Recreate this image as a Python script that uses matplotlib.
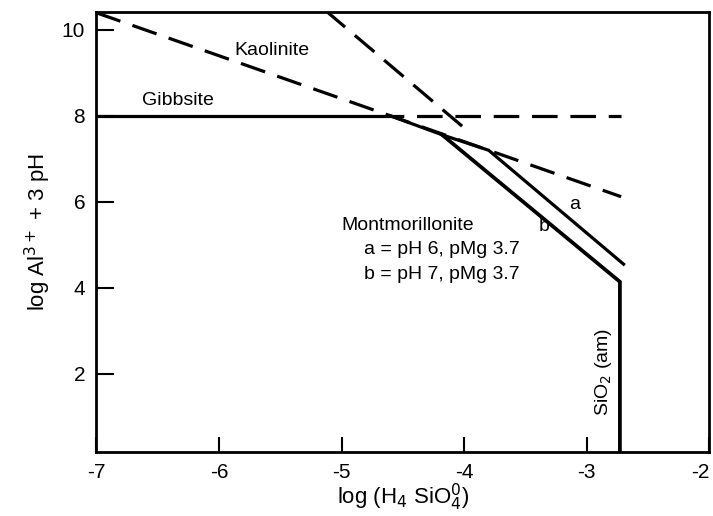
import numpy as np
import matplotlib
matplotlib.use('Agg')
from matplotlib import pyplot as plt

plt.rcParams['font.family'] = ['Liberation Sans', 'DejaVu Sans']

# stability boundaries, log H4SiO4 vs log Al3+ + 3pH
gibbsite_x = [-7.0, -4.6]
gibbsite_y = [8.0, 8.0]

mont_a_x = [-4.6, -4.18, -3.8, -2.7]
mont_a_y = [8.0, 7.56, 7.2, 4.55]

mont_b_x = [-4.18, -2.73, -2.73]
mont_b_y = [7.56, 4.14, 0.0]

kaol_x = [-7.0, -2.72]
kaol_y = [10.4, 6.12]

steep_x = [-5.13, -3.95]
steep_y = [10.45, 7.6]

gibb_ext_x = [-4.6, -2.72]
gibb_ext_y = [8.0, 8.0]

xticks = [-7, -6, -5, -4, -3, -2]
yticks = [2, 4, 6, 8, 10]

fig = plt.figure(figsize=(7.13, 5.16), dpi=100)
ax = fig.add_axes([0.135, 0.124, 0.860, 0.853])

lw = 2.3
dash = (0, (8, 4))
ax.plot(gibbsite_x, gibbsite_y, 'k-', lw=lw, solid_capstyle='butt')
ax.plot(mont_a_x, mont_a_y, 'k-', lw=lw, solid_joinstyle='miter')
ax.plot(mont_b_x, mont_b_y, 'k-', lw=lw + 0.4, solid_joinstyle='miter')
ax.plot(kaol_x, kaol_y, 'k', ls=dash, lw=lw)
ax.plot(steep_x, steep_y, 'k', ls=dash, lw=lw)
ax.plot(gibb_ext_x, gibb_ext_y, 'k', ls=(4, (8, 4)), lw=lw)

fs = 14
ax.text(-5.57, 9.53, 'Kaolinite', fontsize=fs, ha='center', va='center')
ax.text(-6.63, 8.35, 'Gibbsite', fontsize=fs, ha='left', va='center')
ax.text(-5.0, 5.45, 'Montmorillonite', fontsize=fs, ha='left', va='center')
ax.text(-4.82, 4.88, 'a = pH 6, pMg 3.7', fontsize=fs, ha='left', va='center')
ax.text(-4.82, 4.32, 'b = pH 7, pMg 3.7', fontsize=fs, ha='left', va='center')
ax.text(-3.1, 5.95, 'a', fontsize=fs, ha='center', va='center')
ax.text(-3.35, 5.42, 'b', fontsize=fs, ha='center', va='center')
ax.text(-2.86, 2.05, 'SiO$_2$ (am)', fontsize=fs, rotation=90,
        ha='center', va='center')

ax.set_xlim(-7, -2)
ax.set_ylim(0.18, 10.42)
ax.set_xticks(xticks)
ax.set_xticklabels(['-7', '-6', '-5', '-4', '-3', '-2'])
ax.get_xticklabels()[-1].set_ha('right')
ax.set_yticks(yticks)
ax.tick_params(direction='in', length=13, width=1.5, labelsize=15, pad=8)
ax.tick_params(axis='x', length=11)
for s in ax.spines.values():
    s.set_linewidth(2)

ax.set_xlabel('log (H$_4$ SiO$_4^0$)', fontsize=16, labelpad=0)
ax.set_ylabel('log Al$^{3+}$ + 3 pH', fontsize=16, labelpad=6)

fig.savefig('out.png', dpi=100)
